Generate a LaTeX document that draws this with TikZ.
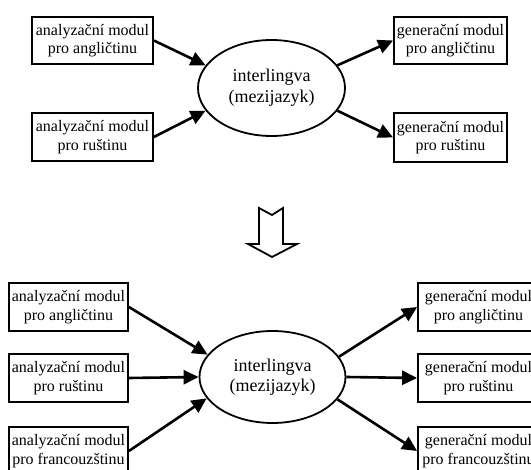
\documentclass[tikz,border=0pt]{standalone}
\usepackage{fontspec}
\setmainfont{Liberation Serif}
\usetikzlibrary{shapes.geometric,arrows.meta}
\tikzset{
  modbox/.style={draw,line width=1.8pt,inner sep=0pt,align=center,
    font=\fontsize{16}{18.4}\selectfont},
  ell/.style={draw,ellipse,line width=1.8pt,inner sep=0pt,align=center,
    font=\fontsize{18}{20.6}\selectfont},
  conn/.style={line width=2.6pt,-{Triangle[length=15pt,width=14pt]}},
  hollow/.style={draw,line width=1.8pt,line join=miter}
}
\begin{document}
\begin{tikzpicture}[x=1pt,y=-1pt]
\useasboundingbox (0,0) rectangle (531,470);
\clip (0,0) rectangle (531,470);
% top part
\node[modbox,minimum width=121pt,minimum height=47pt] (a1) at (92.5,40.5) {analyzační modul\\pro angličtinu};
\node[modbox,minimum width=121pt,minimum height=48pt] (a2) at (92.5,137) {analyzační modul\\pro ruštinu};
\node[ell,minimum width=147pt,minimum height=96pt] (e1) at (271.5,88) {interlingva\\(mezijazyk)};
\node[modbox,minimum width=113pt,minimum height=47pt] (g1) at (450.5,40.5) {generační modul\\pro angličtinu};
\node[modbox,minimum width=113pt,minimum height=49pt] (g2) at (450.5,137.5) {generační modul\\pro ruštinu};
\draw[conn] (a1.east) -- (e1.161);
\draw[conn] (a2.east) -- (e1.199);
\draw[conn] (e1.19) -- (g1.west);
\draw[conn] (e1.-19) -- (g2.west);
% hollow arrow
\draw[hollow] (259,208) -- (272,215) -- (283,208) -- (283,244) -- (297,244) -- (272,257) -- (248,244) -- (259,244) -- cycle;
% bottom part
\node[modbox,minimum width=119pt,minimum height=48pt] (b1) at (68.5,307) {analyzační modul\\pro angličtinu};
\node[modbox,minimum width=119pt,minimum height=48pt] (b2) at (68.5,378) {analyzační modul\\pro ruštinu};
\node[modbox,minimum width=119pt,minimum height=48pt] (b3) at (68.5,451) {analyzační modul\\pro francouzštinu};
\node[ell,minimum width=146pt,minimum height=92pt] (e2) at (272.5,377) {interlingva\\(mezijazyk)};
\node[modbox,minimum width=121pt,minimum height=48pt] (h1) at (478.5,307) {generační modul\\pro angličtinu};
\node[modbox,minimum width=121pt,minimum height=48pt] (h2) at (478.5,378) {generační modul\\pro ruštinu};
\node[modbox,minimum width=121pt,minimum height=48pt] (h3) at (478.5,451) {generační modul\\pro francouzštinu};
\draw[conn] (b1.east) -- (e2.161);
\draw[conn] (b2.east) -- (e2.west);
\draw[conn] (b3.east) -- (e2.198);
\draw[conn] (e2.17) -- (h1.west);
\draw[conn] (e2.east) -- (h2.west);
\draw[conn] (e2.-19) -- (h3.west);
\end{tikzpicture}
\end{document}
